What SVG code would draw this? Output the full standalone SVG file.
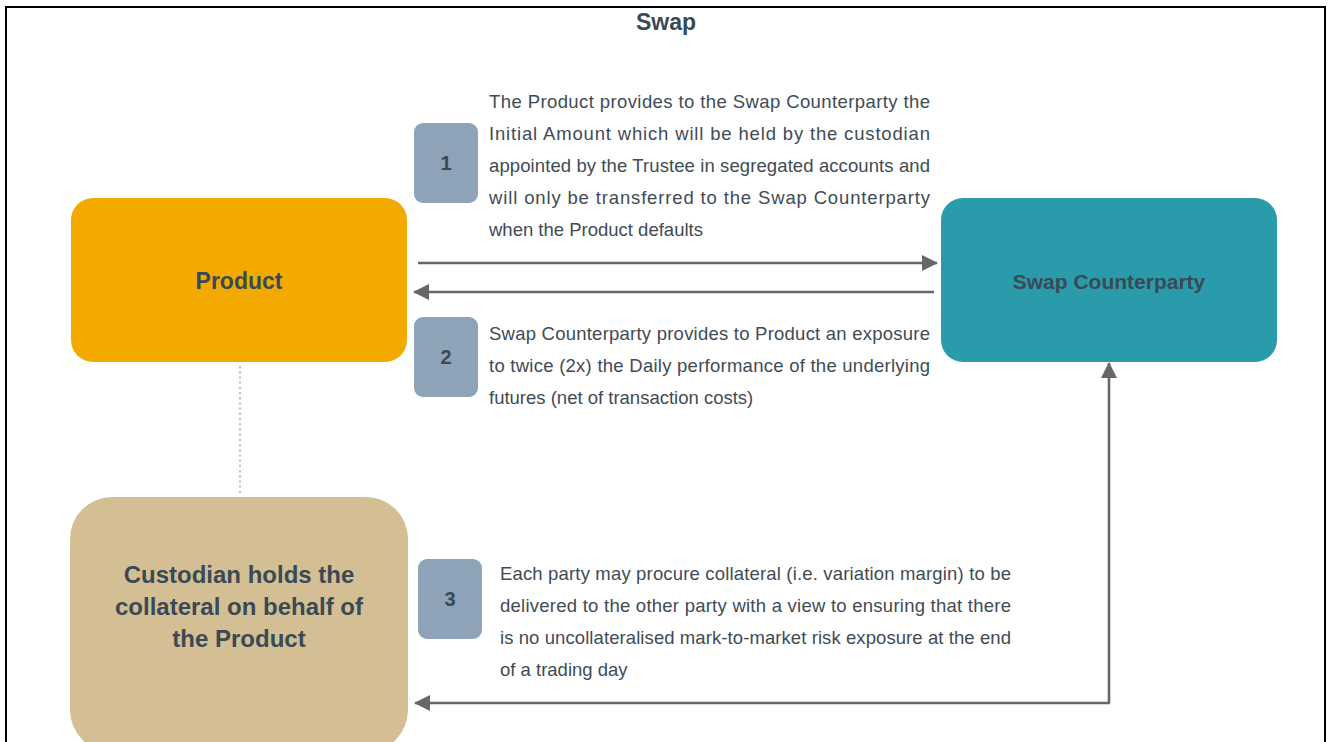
<svg xmlns="http://www.w3.org/2000/svg" width="1330" height="742" viewBox="0 0 1330 742">
<defs>
<style>
.lbl{font-family:"Liberation Sans",Arial,sans-serif;font-weight:bold;fill:#3a4a55;text-anchor:middle}
.num{font-family:"Liberation Sans",Arial,sans-serif;font-weight:bold;fill:#3a4a55;text-anchor:middle;font-size:20px}
.para{font-family:"Liberation Sans",Arial,sans-serif;fill:#3f4b55;font-size:18.5px}
.badge{fill:#8ea3b8}
.conn{stroke:#676767;stroke-width:2.6;fill:none}
</style>
<marker id="ah" viewBox="0 0 16 16" refX="15" refY="8" markerUnits="userSpaceOnUse" markerWidth="16" markerHeight="16" orient="auto">
<path d="M0,0 L16,8 L0,16 Z" fill="#676767"/>
</marker>
</defs>
<rect x="0" y="0" width="1330" height="742" fill="#ffffff"/>
<rect x="6" y="7" width="1319" height="800" fill="none" stroke="#000000" stroke-width="2"/>
<text class="lbl" x="666" y="30" font-size="23">Swap</text>

<g id="connectors">
<line class="conn" x1="418" y1="263" x2="937" y2="263" marker-end="url(#ah)"/>
<line class="conn" x1="934" y1="292" x2="414" y2="292" marker-end="url(#ah)"/>
<polyline class="conn" points="1109,703 1109,363" marker-end="url(#ah)"/>
<line class="conn" x1="1110" y1="703" x2="415" y2="703" marker-end="url(#ah)"/>
<line x1="240" y1="366" x2="240" y2="495" stroke="#c4c4c4" stroke-width="2.2" stroke-dasharray="2.2 3"/>
</g>

<g id="product">
<rect x="71" y="198" width="336" height="164" rx="22" fill="#f2aa00"/>
<text class="lbl" x="239" y="289" font-size="23">Product</text>
</g>

<g id="swap-counterparty">
<rect x="941" y="198" width="336" height="164" rx="22" fill="#2a9bab"/>
<text class="lbl" x="1109" y="289" font-size="21">Swap Counterparty</text>
</g>

<g id="custodian">
<rect x="70" y="497" width="338" height="255" rx="42" fill="#d4be94"/>
<text class="lbl" font-size="24"><tspan x="239" y="583">Custodian holds the</tspan><tspan x="239" y="615">collateral on behalf of</tspan><tspan x="239" y="647">the Product</tspan></text>
</g>

<g id="step1">
<rect class="badge" x="414" y="123" width="64" height="80" rx="9"/>
<text class="num" x="446" y="170">1</text>
<text class="para">
<tspan x="489" y="108" textLength="441" lengthAdjust="spacing">The Product provides to the Swap Counterparty the</tspan>
<tspan x="489" y="140" textLength="441" lengthAdjust="spacing">Initial Amount which will be held by the custodian</tspan>
<tspan x="489" y="172" textLength="441" lengthAdjust="spacing">appointed by the Trustee in segregated accounts and</tspan>
<tspan x="489" y="204" textLength="441" lengthAdjust="spacing">will only be transferred to the Swap Counterparty</tspan>
<tspan x="489" y="236">when the Product defaults</tspan>
</text>
</g>

<g id="step2">
<rect class="badge" x="414" y="317" width="64" height="80" rx="9"/>
<text class="num" x="446" y="364">2</text>
<text class="para">
<tspan x="489" y="340" textLength="441" lengthAdjust="spacing">Swap Counterparty provides to Product an exposure</tspan>
<tspan x="489" y="372" textLength="441" lengthAdjust="spacing">to twice (2x) the Daily performance of the underlying</tspan>
<tspan x="489" y="404">futures (net of transaction costs)</tspan>
</text>
</g>

<g id="step3">
<rect class="badge" x="418" y="559" width="64" height="80" rx="9"/>
<text class="num" x="450" y="606">3</text>
<text class="para">
<tspan x="500" y="580" textLength="511" lengthAdjust="spacing">Each party may procure collateral (i.e. variation margin) to be</tspan>
<tspan x="500" y="612" textLength="511" lengthAdjust="spacing">delivered to the other party with a view to ensuring that there</tspan>
<tspan x="500" y="644" textLength="511" lengthAdjust="spacing">is no uncollateralised mark-to-market risk exposure at the end</tspan>
<tspan x="500" y="676">of a trading day</tspan>
</text>
</g>
</svg>
